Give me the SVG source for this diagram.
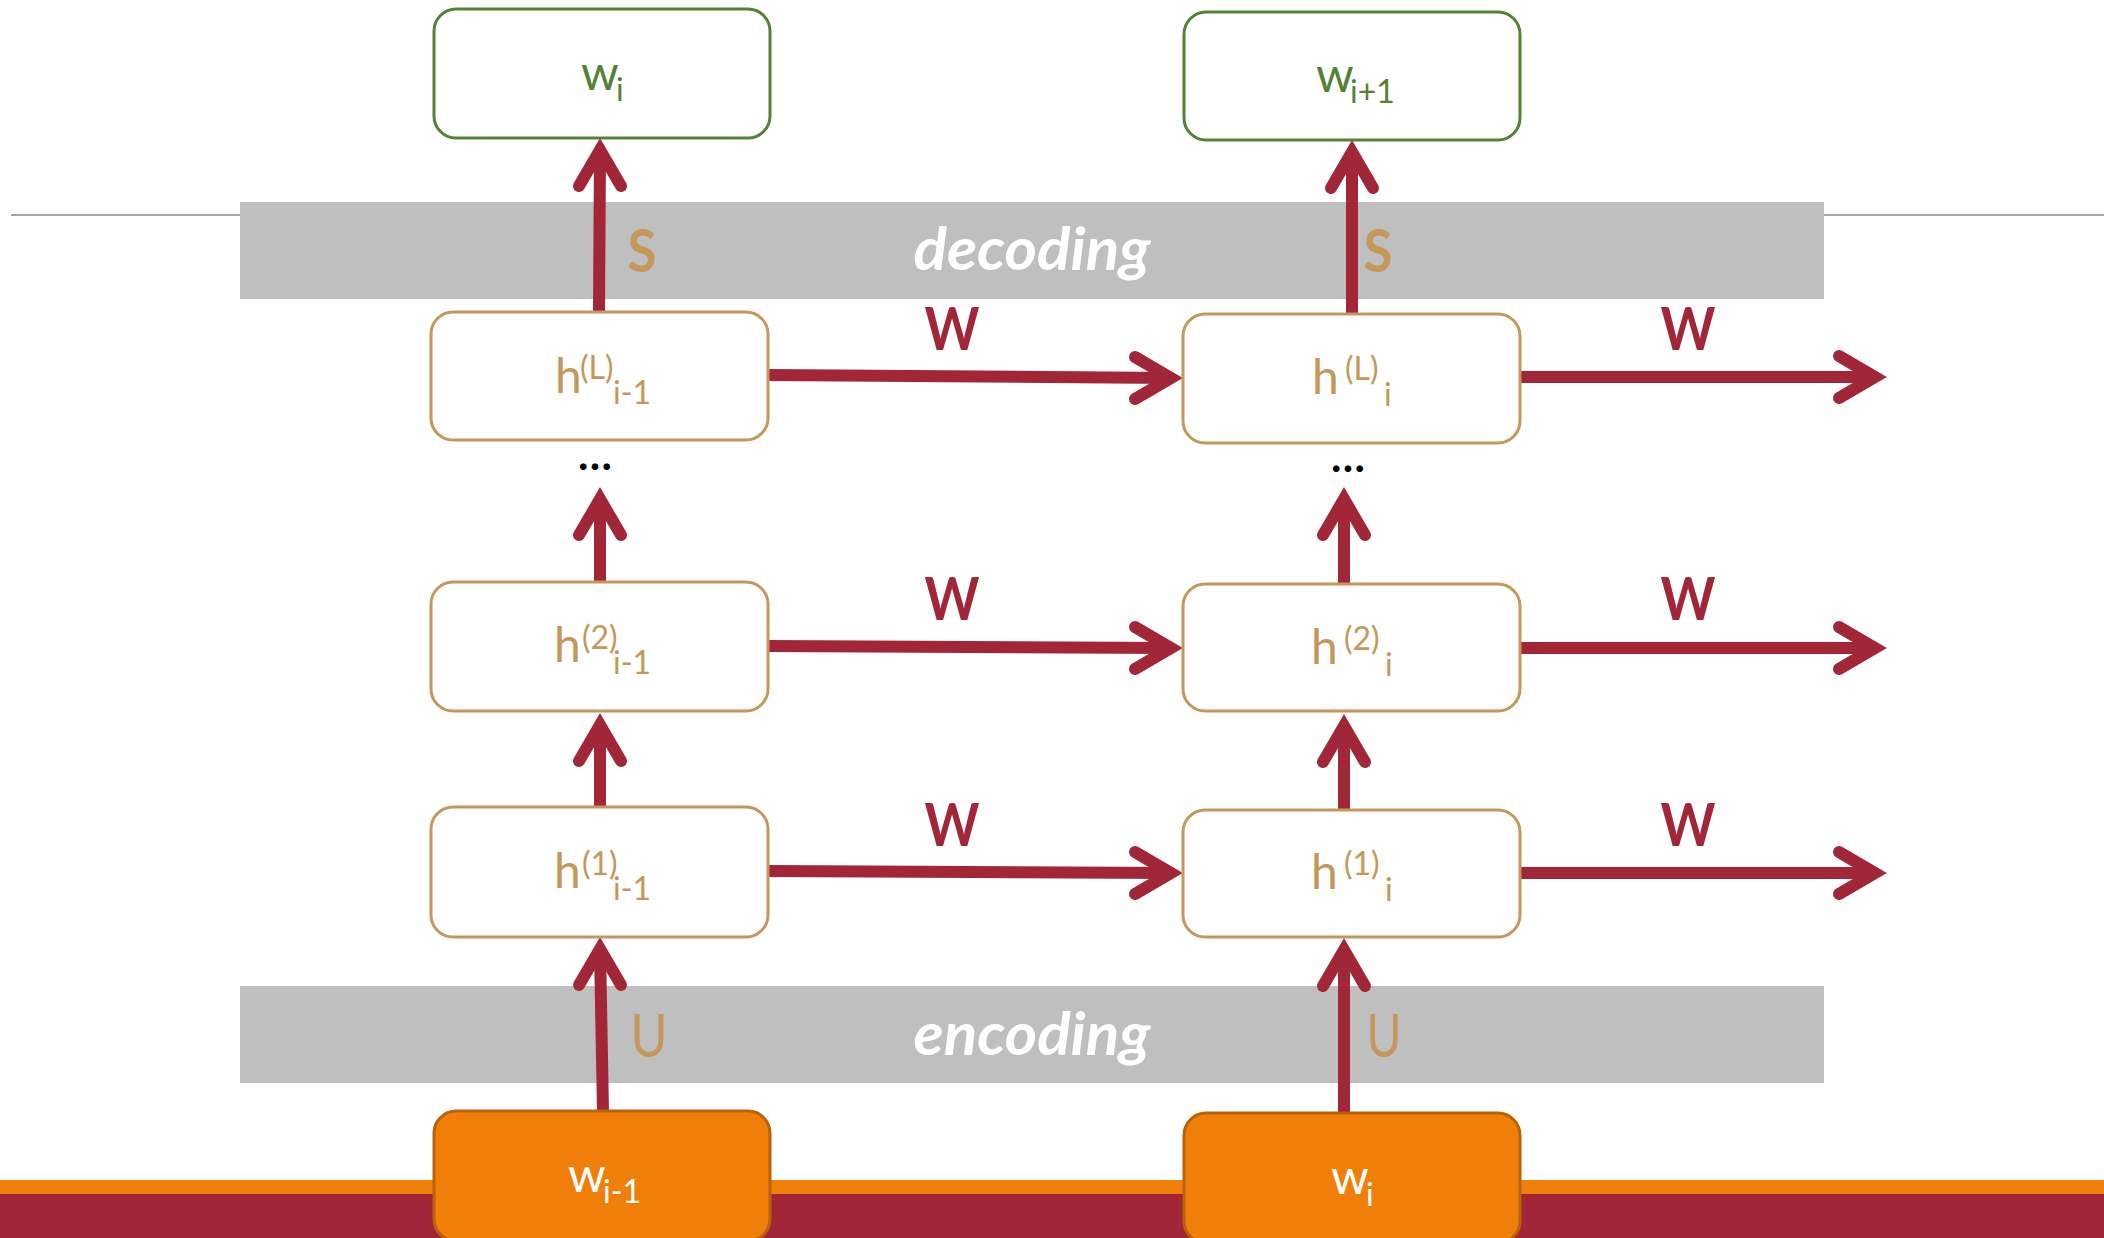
<svg xmlns="http://www.w3.org/2000/svg" xmlns:xlink="http://www.w3.org/1999/xlink" width="2104" height="1238" viewBox="0 0 2104 1238">
  <defs>
    <style>
      .band { fill: #BFBFBF; }
      .band-label { font-family: Lato, "Liberation Sans", sans-serif; font-weight: bold; font-style: italic; font-size: 60px; fill: #FFFFFF; }
      .hbox { fill: #FFFFFF; stroke: #C4975A; stroke-width: 3; }
      .obox { fill: #FFFFFF; stroke: #548235; stroke-width: 3; }
      .ibox { fill: #F07F09; stroke: #B9620C; stroke-width: 3; }
      .txt { font-family: Lato, "Liberation Sans", sans-serif; font-size: 48px; }
      .gold { fill: #C4975A; }
      .green { fill: #548235; }
      .white { fill: #FFFFFF; }
      .small { font-size: 32px; }
      .shaft { stroke: #A12738; stroke-width: 12; fill: none; }
      .head { stroke: #A12738; stroke-width: 12; fill: none; stroke-linecap: round; stroke-linejoin: miter; stroke-miterlimit: 10; }
      .wlabel { font-family: Lato, "Liberation Sans", sans-serif; font-weight: bold; font-size: 60px; fill: #A12738; }
      .slabel { font-family: Lato, "Liberation Sans", sans-serif; font-weight: bold; font-size: 60px; fill: #C4975A; }
      .plabel { font-family: Lato, "Liberation Sans", sans-serif; font-size: 60px; fill: #C4975A; }
      .dots { font-family: Lato, "Liberation Sans", sans-serif; font-weight: bold; font-size: 44px; fill: #000000; }
    </style>
    <path id="hd" d="M-36,-21 L0,0 L-36,21"/>
  </defs>

  <!-- background -->
  <rect x="0" y="0" width="2104" height="1238" fill="#FFFFFF"/>
  <line x1="11" y1="215" x2="2104" y2="215" stroke="#A6A6A6" stroke-width="2"/>
  <rect x="0" y="1180" width="2104" height="14" fill="#F07F09"/>
  <rect x="0" y="1194" width="2104" height="44" fill="#A12738"/>

  <!-- bands -->
  <g id="decoding-band">
    <rect class="band" x="240" y="202" width="1584" height="97"/>
    <text class="band-label" x="1032" y="270" text-anchor="middle" textLength="237" lengthAdjust="spacingAndGlyphs">decoding</text>
  </g>
  <g id="encoding-band">
    <rect class="band" x="240" y="986" width="1584" height="97"/>
    <text class="band-label" x="1032" y="1055" text-anchor="middle" textLength="237" lengthAdjust="spacingAndGlyphs">encoding</text>
  </g>

  <!-- connectors -->
  <g id="connectors">
    <!-- recurrent W arrows, left column to right column -->
    <line class="shaft" x1="768" y1="375" x2="1171" y2="378"/>
    <use href="#hd" class="head" transform="translate(1171,378)"/>
    <line class="shaft" x1="768" y1="646" x2="1171" y2="648"/>
    <use href="#hd" class="head" transform="translate(1171,648)"/>
    <line class="shaft" x1="768" y1="871" x2="1171" y2="873"/>
    <use href="#hd" class="head" transform="translate(1171,873)"/>
    <!-- recurrent W arrows leaving the right column -->
    <line class="shaft" x1="1520" y1="377" x2="1875" y2="377"/>
    <use href="#hd" class="head" transform="translate(1875,377)"/>
    <line class="shaft" x1="1520" y1="648" x2="1875" y2="648"/>
    <use href="#hd" class="head" transform="translate(1875,648)"/>
    <line class="shaft" x1="1520" y1="873" x2="1875" y2="873"/>
    <use href="#hd" class="head" transform="translate(1875,873)"/>

    <!-- S: top hidden layer to output -->
    <line class="shaft" x1="599" y1="312" x2="600" y2="150"/>
    <use href="#hd" class="head" transform="translate(600,150) rotate(-90)"/>
    <line class="shaft" x1="1352" y1="314" x2="1352" y2="152"/>
    <use href="#hd" class="head" transform="translate(1352,152) rotate(-90)"/>

    <!-- layer 2 up towards the elided layers -->
    <line class="shaft" x1="600" y1="582" x2="600" y2="499"/>
    <use href="#hd" class="head" transform="translate(600,499) rotate(-90)"/>
    <line class="shaft" x1="1344" y1="584" x2="1344" y2="499"/>
    <use href="#hd" class="head" transform="translate(1344,499) rotate(-90)"/>

    <!-- layer 1 to layer 2 -->
    <line class="shaft" x1="600" y1="807" x2="600" y2="725"/>
    <use href="#hd" class="head" transform="translate(600,725) rotate(-90)"/>
    <line class="shaft" x1="1344" y1="810" x2="1344" y2="726"/>
    <use href="#hd" class="head" transform="translate(1344,726) rotate(-90)"/>

    <!-- U: input to layer 1 -->
    <line class="shaft" x1="603" y1="1111" x2="600" y2="949"/>
    <use href="#hd" class="head" transform="translate(600,949) rotate(-90)"/>
    <line class="shaft" x1="1344" y1="1113" x2="1344" y2="950"/>
    <use href="#hd" class="head" transform="translate(1344,950) rotate(-90)"/>
  </g>

  <!-- weight labels -->
  <g id="labels">
    <text class="slabel" x="642" y="272" text-anchor="middle" textLength="29" lengthAdjust="spacingAndGlyphs">S</text>
    <text class="slabel" x="1378" y="272" text-anchor="middle" textLength="29" lengthAdjust="spacingAndGlyphs">S</text>
    <text class="wlabel" x="952" y="350" text-anchor="middle" textLength="55" lengthAdjust="spacingAndGlyphs">W</text>
    <text class="wlabel" x="1688" y="350" text-anchor="middle" textLength="55" lengthAdjust="spacingAndGlyphs">W</text>
    <text class="wlabel" x="952" y="620" text-anchor="middle" textLength="55" lengthAdjust="spacingAndGlyphs">W</text>
    <text class="wlabel" x="1688" y="620" text-anchor="middle" textLength="55" lengthAdjust="spacingAndGlyphs">W</text>
    <text class="wlabel" x="952" y="846" text-anchor="middle" textLength="55" lengthAdjust="spacingAndGlyphs">W</text>
    <text class="wlabel" x="1688" y="846" text-anchor="middle" textLength="55" lengthAdjust="spacingAndGlyphs">W</text>
    <text class="plabel" x="649" y="1057" text-anchor="middle" textLength="37" lengthAdjust="spacingAndGlyphs">U</text>
    <text class="plabel" x="1384" y="1057" text-anchor="middle" textLength="35" lengthAdjust="spacingAndGlyphs">U</text>
    <text class="dots" x="595" y="470" text-anchor="middle">…</text>
    <text class="dots" x="1348" y="472" text-anchor="middle">…</text>
  </g>

  <!-- output words -->
  <g id="out-prev">
    <rect class="obox" x="434" y="9" width="336" height="129" rx="22"/>
    <text class="txt green"><tspan x="581" y="90">w</tspan><tspan class="small" x="616" y="101">i</tspan></text>
  </g>
  <g id="out-next">
    <rect class="obox" x="1184" y="12" width="336" height="128" rx="22"/>
    <text class="txt green"><tspan x="1316" y="92">w</tspan><tspan class="small" x="1350" y="103">i+1</tspan></text>
  </g>

  <!-- hidden states, step i-1 -->
  <g id="hL-prev">
    <rect class="hbox" x="431" y="312" width="337" height="128" rx="22"/>
    <text class="txt gold"><tspan x="555" y="393">h</tspan><tspan class="small" x="580" y="379">(L)</tspan><tspan class="small" x="613" y="404">i-1</tspan></text>
  </g>
  <g id="h2-prev">
    <rect class="hbox" x="431" y="582" width="337" height="129" rx="22"/>
    <text class="txt gold"><tspan x="554" y="662">h</tspan><tspan class="small" x="582" y="649">(2)</tspan><tspan class="small" x="613" y="674">i-1</tspan></text>
  </g>
  <g id="h1-prev">
    <rect class="hbox" x="431" y="807" width="337" height="130" rx="22"/>
    <text class="txt gold"><tspan x="554" y="888">h</tspan><tspan class="small" x="582" y="875">(1)</tspan><tspan class="small" x="613" y="900">i-1</tspan></text>
  </g>

  <!-- hidden states, step i -->
  <g id="hL-cur">
    <rect class="hbox" x="1183" y="314" width="337" height="129" rx="22"/>
    <text class="txt gold"><tspan x="1312" y="394">h</tspan><tspan class="small" x="1345" y="380">(L)</tspan><tspan class="small" x="1384" y="406">i</tspan></text>
  </g>
  <g id="h2-cur">
    <rect class="hbox" x="1183" y="584" width="337" height="127" rx="22"/>
    <text class="txt gold"><tspan x="1311" y="664">h</tspan><tspan class="small" x="1344" y="650">(2)</tspan><tspan class="small" x="1385" y="676">i</tspan></text>
  </g>
  <g id="h1-cur">
    <rect class="hbox" x="1183" y="810" width="337" height="127" rx="22"/>
    <text class="txt gold"><tspan x="1311" y="889">h</tspan><tspan class="small" x="1344" y="875">(1)</tspan><tspan class="small" x="1385" y="901">i</tspan></text>
  </g>

  <!-- input words -->
  <g id="in-prev">
    <rect class="ibox" x="434" y="1111" width="336" height="130" rx="22"/>
    <text class="txt white"><tspan x="568" y="1192">w</tspan><tspan class="small" x="603" y="1203">i-1</tspan></text>
  </g>
  <g id="in-cur">
    <rect class="ibox" x="1184" y="1113" width="336" height="130" rx="22"/>
    <text class="txt white"><tspan x="1331" y="1194">w</tspan><tspan class="small" x="1366" y="1206">i</tspan></text>
  </g>
</svg>
